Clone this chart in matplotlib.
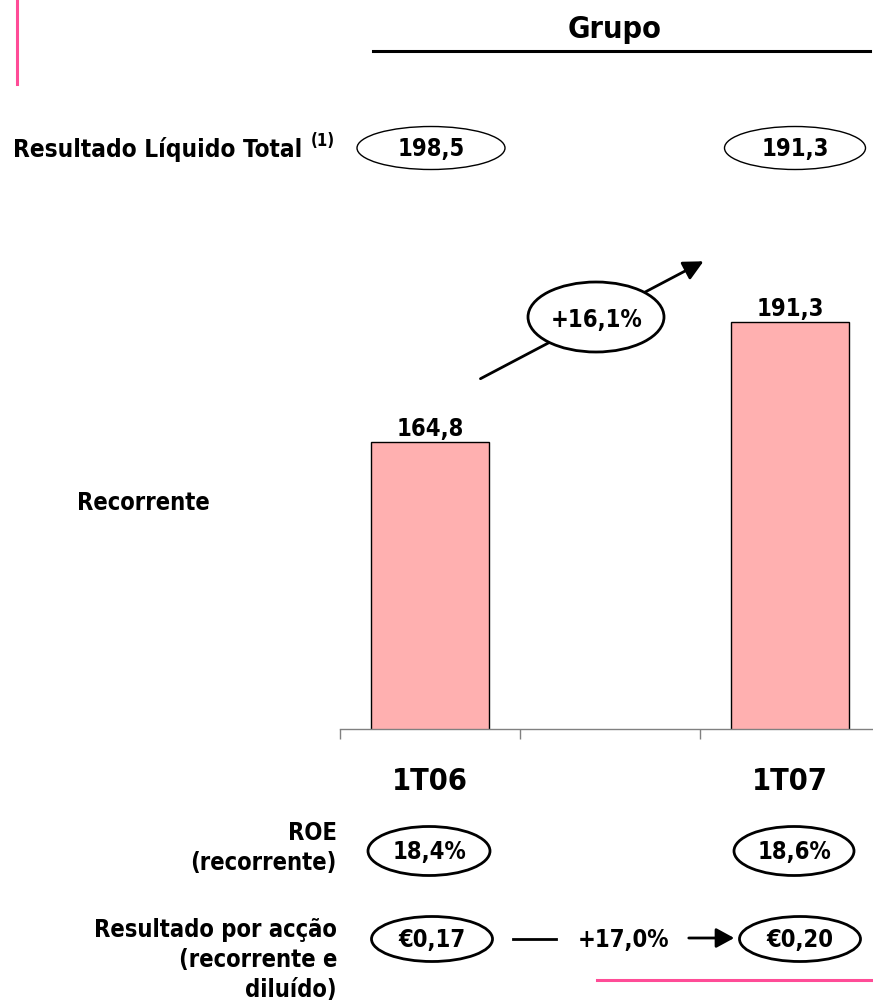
import matplotlib
matplotlib.use('Agg')
import matplotlib.pyplot as plt
from matplotlib.patches import Ellipse, FancyArrowPatch
from matplotlib.lines import Line2D
from matplotlib.transforms import blended_transform_factory

# ---------------- data ----------------
categories = ['1T06', '1T07']
recorrente = [164.8, 191.3]
resultado_total = [198.5, 191.3]
roe = ['18,4%', '18,6%']
eps = ['€0,17', '€0,20']
growth_recorrente = '+16,1%'
growth_eps = '+17,0%'
title = 'Grupo'

W, H = 873, 1003
DPI = 100
FAM = ['DejaVu Sans Condensed', 'DejaVu Sans']
TXT = dict(family=FAM, fontstretch='condensed', fontweight='bold', color='black')
PINK = '#FF4C97'
BAR = '#FFB0B0'


def fmt(v):
    return f'{v:.1f}'.replace('.', ',')


def fy(py):
    return 1 - py / H


def fx(px):
    return px / W


fig = plt.figure(figsize=(W / DPI, H / DPI), dpi=DPI)
fig.patch.set_facecolor('white')

# ---------------- bar axes ----------------
ax = fig.add_axes([fx(340), fy(730), 540 / W, (730 - 240) / H])
xpos = [2 * i for i in range(len(categories))]
ax.bar(xpos, recorrente, width=0.66, color=BAR, edgecolor='black', linewidth=1.0, zorder=2)
ax.set_xlim(-0.5, 2.5)
ax.set_ylim(101.4, 209.6)
for s in ['top', 'right', 'left']:
    ax.spines[s].set_visible(False)
ax.spines['bottom'].set_color('#808080')
ax.spines['bottom'].set_linewidth(1.0)
ax.set_yticks([])
ax.set_xticks([-0.5, 0.5, 1.5, 2.5])
ax.set_xticklabels([])
ax.tick_params(axis='x', direction='out', length=7, width=1.0, color='#808080')
ax.patch.set_alpha(0)

for x, v in zip(xpos, recorrente):
    ax.annotate(fmt(v), (x, v), xytext=(0, 1.5), textcoords='offset points',
                ha='center', va='bottom', fontsize=17, **TXT)

bt = blended_transform_factory(ax.transData, fig.transFigure)
px_per_unit = 540 / 3.0

for x, c in zip(xpos, categories):
    fig.text(x, fy(781), c, transform=bt, ha='center', va='center', fontsize=22, **TXT)


def oval(xd, dxpx, py, wpx, hpx, text, lw, fs=17):
    cx = xd + dxpx / px_per_unit
    e = Ellipse((cx, fy(py)), wpx / px_per_unit, hpx / H, transform=bt,
                facecolor='white', edgecolor='black', linewidth=lw, zorder=5)
    fig.add_artist(e)
    fig.text(cx, fy(py), text, transform=bt, ha='center', va='center',
             fontsize=fs, zorder=6, **TXT)


# ---------------- top title ----------------
fig.text(fx(615), fy(29), title, ha='center', va='center', fontsize=22, **TXT)
fig.add_artist(Line2D([fx(373), fx(870)], [fy(52), fy(52)], color='black', lw=2.2))
fig.add_artist(Line2D([fx(17), fx(17)], [fy(0), fy(85)], color=PINK, lw=2.2))
fig.add_artist(Line2D([fx(597), fx(873)], [fy(981), fy(981)], color=PINK, lw=2.2))

# ---------------- total row ----------------
t = fig.text(fx(13), fy(150), 'Resultado Líquido Total', ha='left', va='center', fontsize=17.5, **TXT)
fig.canvas.draw()
bb = t.get_window_extent()
fig.text(bb.x1 / W + fx(8), fy(141), '(1)', ha='left', va='center', fontsize=12, **TXT)
oval(xpos[0], 1, 149, 148, 43, fmt(resultado_total[0]), 1.0)
oval(xpos[1], 5, 149, 141, 43, fmt(resultado_total[1]), 1.0)

# ---------------- growth arrow ----------------
arr = FancyArrowPatch((fx(478), fy(381)), (fx(706), fy(261)), transform=fig.transFigure,
                      arrowstyle='-|>,head_length=0.6,head_width=0.3', mutation_scale=20,
                      color='black', lw=2.0, zorder=3)
fig.add_artist(arr)
fig.add_artist(Ellipse((fx(596), fy(318)), 136 / W, 70 / H, transform=fig.transFigure,
                       facecolor='white', edgecolor='black', linewidth=2.0, zorder=5))
fig.text(fx(597), fy(320), growth_recorrente, ha='center', va='center', fontsize=17, zorder=6, **TXT)

# ---------------- left labels ----------------
fig.text(fx(77), fy(503), 'Recorrente', ha='left', va='center', fontsize=17, **TXT)
fig.text(fx(337), fy(848), 'ROE\n(recorrente)', ha='right', va='center', multialignment='right',
         fontsize=17, linespacing=1.3, **TXT)
fig.text(fx(337), fy(960), 'Resultado por acção\n(recorrente e\ndiluído)', ha='right', va='center',
         multialignment='right', fontsize=17, linespacing=1.3, **TXT)

# ---------------- ROE / EPS rows ----------------
oval(xpos[0], -1, 852, 122, 49, roe[0], 2.0)
oval(xpos[1], 4, 852, 120, 49, roe[1], 2.0)
oval(xpos[0], 2, 940, 121, 45, eps[0], 2.0)
oval(xpos[1], 10, 940, 121, 45, eps[1], 2.0)

fig.add_artist(Line2D([fx(513), fx(556)], [fy(940), fy(940)], color='black', lw=2.0))
fig.text(fx(623), fy(940), growth_eps, ha='center', va='center', fontsize=17, **TXT)
fig.add_artist(FancyArrowPatch((fx(686), fy(939)), (fx(737), fy(939)), transform=fig.transFigure,
                               arrowstyle='-|>,head_length=0.55,head_width=0.3', mutation_scale=20,
                               color='black', lw=2.0, zorder=3))

fig.savefig('out.png', dpi=DPI, facecolor='white')
